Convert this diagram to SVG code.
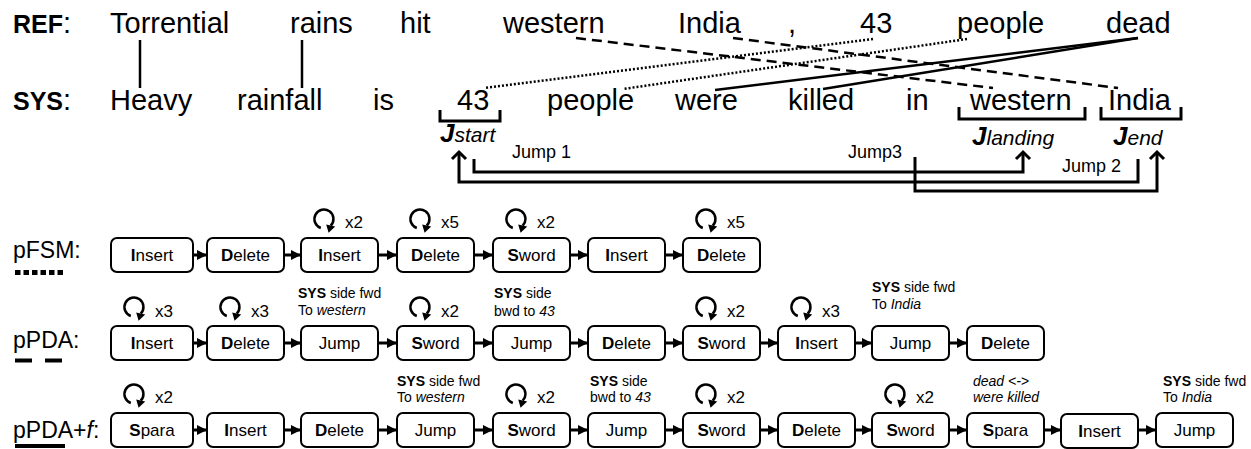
<svg xmlns="http://www.w3.org/2000/svg" xmlns:xlink="http://www.w3.org/1999/xlink" width="1251" height="449" viewBox="0 0 1251 449">
<style>
text{font-family:"Liberation Sans",Arial,sans-serif;fill:#000}
.w{font-size:29px}
.lbl{font-size:25px;font-weight:bold}
.row{font-size:23px}
.box{fill:#fff;stroke:#000;stroke-width:2}
.bt{font-size:17px;text-anchor:middle}
.b{font-weight:bold}
.i{font-style:italic}
.ann{font-size:14px}
.cnt{font-size:17px}
.jl{font-size:18px}
.lk{stroke:#000;stroke-width:2.5;fill:none}
.jp{stroke:#000;stroke-width:3;fill:none;stroke-linejoin:miter}
.ba{stroke:#000;stroke-width:3;fill:none}
</style>
<defs>
<marker id="ah" viewBox="0 0 10 10" refX="9" refY="5" markerWidth="10" markerHeight="11" markerUnits="userSpaceOnUse" orient="auto"><path d="M0,0 L10,5 L0,10 z" fill="#000"/></marker>
<g id="loop"><path d="M-3.2,9 A9.5,9.5 0 1 1 6.7,6.7" fill="none" stroke="#000" stroke-width="2.5"/><path d="M2.2,5.6 L11.2,7.6 L4.6,13.8 z" fill="#000"/></g>
</defs>

<g id="sentences">
<text class="w" x="13" y="33"><tspan class="lbl">REF</tspan>:</text>
<text class="w" x="110" y="33">Torrential</text>
<text class="w" x="290" y="33">rains</text>
<text class="w" x="400" y="33">hit</text>
<text class="w" x="503" y="33">western</text>
<text class="w" x="678" y="33">India</text>
<text class="w" x="788" y="33">,</text>
<text class="w" x="860" y="33">43</text>
<text class="w" x="957" y="33">people</text>
<text class="w" x="1106" y="33">dead</text>
<text class="w" x="13" y="110"><tspan class="lbl">SYS</tspan>:</text>
<text class="w" x="110" y="110">Heavy</text>
<text class="w" x="237" y="110">rainfall</text>
<text class="w" x="373" y="110">is</text>
<text class="w" x="457" y="110">43</text>
<text class="w" x="547" y="110">people</text>
<text class="w" x="675" y="110">were</text>
<text class="w" x="788" y="110">killed</text>
<text class="w" x="906" y="110">in</text>
<text class="w" x="970" y="110">western</text>
<text class="w" x="1108" y="110">India</text>
</g>

<g id="alignments">
<line class="lk" x1="140" y1="40" x2="140" y2="88"/>
<line class="lk" x1="302" y1="40" x2="302" y2="88"/>
<line class="lk" x1="576" y1="38" x2="993" y2="88" stroke-dasharray="10 6"/>
<line class="lk" x1="733" y1="38" x2="1118" y2="88" stroke-dasharray="10 6"/>
<line class="lk" x1="873" y1="39" x2="485" y2="88" stroke-dasharray="2 2"/>
<line class="lk" x1="967" y1="39" x2="623" y2="89" stroke-dasharray="2 2"/>
<line class="lk" x1="1138" y1="38" x2="715" y2="90"/>
<line class="lk" x1="1138" y1="38" x2="823" y2="89"/>
</g>

<g id="brackets">
<path class="jp" d="M440,110 V121 H500 V110"/>
<path class="jp" d="M959,107 V119 H1085 V107"/>
<path class="jp" d="M1101,107 V119 H1181 V107"/>
<text x="440" y="142" class="i"><tspan class="b" font-size="26">J</tspan><tspan font-size="21">start</tspan></text>
<text x="972" y="145" class="i"><tspan class="b" font-size="26">J</tspan><tspan font-size="21">landing</tspan></text>
<text x="1113" y="145" class="i"><tspan class="b" font-size="26">J</tspan><tspan font-size="21">end</tspan></text>
</g>

<g id="jumps">
<path class="jp" d="M474,159 V172 H1023 V153"/>
<path class="jp" d="M1016,159 L1023,152 L1030,159"/>
<path class="jp" d="M1138,159 V182 H459 V153"/>
<path class="jp" d="M452,159 L459,152 L466,159"/>
<path class="jp" d="M915,157 V191 H1157 V153"/>
<path class="jp" d="M1150,159 L1157,152 L1164,159"/>
<text class="jl" x="512" y="158">Jump 1</text>
<text class="jl" x="848" y="158">Jump3</text>
<text class="jl" x="1062" y="172">Jump 2</text>
</g>

<g id="legend">
<text class="row" x="13" y="258">pFSM:</text>
<line x1="15" y1="272.5" x2="63" y2="272.5" stroke="#000" stroke-width="5" stroke-dasharray="5.5 3"/>
<text class="row" x="13" y="348">pPDA:</text>
<line x1="15" y1="360.5" x2="62" y2="360.5" stroke="#000" stroke-width="4" stroke-dasharray="17 13"/>
<text class="row" x="13" y="438">pPDA+<tspan class="i">f</tspan>:</text>
<line x1="15" y1="446" x2="65" y2="446" stroke="#000" stroke-width="4"/>
</g>

<!-- pFSM row -->
<g id="pfsm-0"><rect class="box" x="111" y="238" width="82" height="34" rx="6"/><text class="bt" x="152" y="261"><tspan class="b">I</tspan>nsert</text></g>
<g id="pfsm-1"><rect class="box" x="207" y="238" width="77" height="34" rx="6"/><text class="bt" x="245.5" y="261"><tspan class="b">D</tspan>elete</text></g>
<g id="pfsm-2"><rect class="box" x="301" y="238" width="77" height="34" rx="6"/><text class="bt" x="339.5" y="261"><tspan class="b">I</tspan>nsert</text><use href="#loop" x="324" y="219"/><text class="cnt" x="345" y="228">x2</text></g>
<g id="pfsm-3"><rect class="box" x="397" y="238" width="77" height="34" rx="6"/><text class="bt" x="435.5" y="261"><tspan class="b">D</tspan>elete</text><use href="#loop" x="420" y="219"/><text class="cnt" x="441" y="228">x5</text></g>
<g id="pfsm-4"><rect class="box" x="493" y="238" width="77" height="34" rx="6"/><text class="bt" x="531.5" y="261"><tspan class="b">S</tspan>word</text><use href="#loop" x="516" y="219"/><text class="cnt" x="537" y="228">x2</text></g>
<g id="pfsm-5"><rect class="box" x="588" y="238" width="77" height="34" rx="6"/><text class="bt" x="626.5" y="261"><tspan class="b">I</tspan>nsert</text></g>
<g id="pfsm-6"><rect class="box" x="683" y="238" width="77" height="34" rx="6"/><text class="bt" x="721.5" y="261"><tspan class="b">D</tspan>elete</text><use href="#loop" x="706" y="219"/><text class="cnt" x="727" y="228">x5</text></g>

<!-- pPDA row -->
<g id="ppda-0"><rect class="box" x="111" y="326" width="82" height="34" rx="6"/><text class="bt" x="152" y="349"><tspan class="b">I</tspan>nsert</text><use href="#loop" x="134" y="307"/><text class="cnt" x="155" y="317">x3</text></g>
<g id="ppda-1"><rect class="box" x="207" y="326" width="77" height="34" rx="6"/><text class="bt" x="245.5" y="349"><tspan class="b">D</tspan>elete</text><use href="#loop" x="230" y="307"/><text class="cnt" x="251" y="317">x3</text></g>
<g id="ppda-2"><rect class="box" x="301" y="326" width="77" height="34" rx="6"/><text class="bt" x="339.5" y="349">Jump</text><text class="ann" x="298" y="298"><tspan class="b">SYS</tspan> side fwd</text><text class="ann" x="298" y="315">To <tspan class="i">western</tspan></text></g>
<g id="ppda-3"><rect class="box" x="397" y="326" width="77" height="34" rx="6"/><text class="bt" x="435.5" y="349"><tspan class="b">S</tspan>word</text><use href="#loop" x="420" y="307"/><text class="cnt" x="441" y="317">x2</text></g>
<g id="ppda-4"><rect class="box" x="493" y="326" width="77" height="34" rx="6"/><text class="bt" x="531.5" y="349">Jump</text><text class="ann" x="494" y="298"><tspan class="b">SYS</tspan> side</text><text class="ann" x="494" y="316">bwd to <tspan class="i">43</tspan></text></g>
<g id="ppda-5"><rect class="box" x="588" y="326" width="77" height="34" rx="6"/><text class="bt" x="626.5" y="349"><tspan class="b">D</tspan>elete</text></g>
<g id="ppda-6"><rect class="box" x="683" y="326" width="77" height="34" rx="6"/><text class="bt" x="721.5" y="349"><tspan class="b">S</tspan>word</text><use href="#loop" x="706" y="307"/><text class="cnt" x="727" y="317">x2</text></g>
<g id="ppda-7"><rect class="box" x="778" y="326" width="77" height="34" rx="6"/><text class="bt" x="816.5" y="349"><tspan class="b">I</tspan>nsert</text><use href="#loop" x="801" y="307"/><text class="cnt" x="822" y="317">x3</text></g>
<g id="ppda-8"><rect class="box" x="872" y="326" width="77" height="34" rx="6"/><text class="bt" x="910.5" y="349">Jump</text><text class="ann" x="872" y="292"><tspan class="b">SYS</tspan> side fwd</text><text class="ann" x="872" y="309">To <tspan class="i">India</tspan></text></g>
<g id="ppda-9"><rect class="box" x="967" y="326" width="77" height="34" rx="6"/><text class="bt" x="1005.5" y="349"><tspan class="b">D</tspan>elete</text></g>

<!-- pPDA+f row -->
<g id="ppdaf-0"><rect class="box" x="111" y="413" width="82" height="34" rx="6"/><text class="bt" x="152" y="436"><tspan class="b">S</tspan>para</text><use href="#loop" x="134" y="394"/><text class="cnt" x="155" y="403">x2</text></g>
<g id="ppdaf-1"><rect class="box" x="207" y="413" width="77" height="34" rx="6"/><text class="bt" x="245.5" y="436"><tspan class="b">I</tspan>nsert</text></g>
<g id="ppdaf-2"><rect class="box" x="301" y="413" width="77" height="34" rx="6"/><text class="bt" x="339.5" y="436"><tspan class="b">D</tspan>elete</text></g>
<g id="ppdaf-3"><rect class="box" x="397" y="413" width="77" height="34" rx="6"/><text class="bt" x="435.5" y="436">Jump</text><text class="ann" x="397" y="386"><tspan class="b">SYS</tspan> side fwd</text><text class="ann" x="397" y="402">To <tspan class="i">western</tspan></text></g>
<g id="ppdaf-4"><rect class="box" x="493" y="413" width="77" height="34" rx="6"/><text class="bt" x="531.5" y="436"><tspan class="b">S</tspan>word</text><use href="#loop" x="516" y="394"/><text class="cnt" x="537" y="403">x2</text></g>
<g id="ppdaf-5"><rect class="box" x="588" y="413" width="77" height="34" rx="6"/><text class="bt" x="626.5" y="436">Jump</text><text class="ann" x="590" y="386"><tspan class="b">SYS</tspan> side</text><text class="ann" x="590" y="402">bwd to <tspan class="i">43</tspan></text></g>
<g id="ppdaf-6"><rect class="box" x="683" y="413" width="77" height="34" rx="6"/><text class="bt" x="721.5" y="436"><tspan class="b">S</tspan>word</text><use href="#loop" x="706" y="394"/><text class="cnt" x="727" y="403">x2</text></g>
<g id="ppdaf-7"><rect class="box" x="778" y="413" width="77" height="34" rx="6"/><text class="bt" x="816.5" y="436"><tspan class="b">D</tspan>elete</text></g>
<g id="ppdaf-8"><rect class="box" x="872" y="413" width="77" height="34" rx="6"/><text class="bt" x="910.5" y="436"><tspan class="b">S</tspan>word</text><use href="#loop" x="895" y="394"/><text class="cnt" x="916" y="403">x2</text></g>
<g id="ppdaf-9"><rect class="box" x="967" y="413" width="77" height="34" rx="6"/><text class="bt" x="1005.5" y="436"><tspan class="b">S</tspan>para</text><text class="ann i" x="973" y="386">dead &lt;-&gt;</text><text class="ann i" x="973" y="402">were killed</text></g>
<g id="ppdaf-10"><rect class="box" x="1061" y="414" width="77" height="34" rx="6"/><text class="bt" x="1099.5" y="437"><tspan class="b">I</tspan>nsert</text></g>
<g id="ppdaf-11"><rect class="box" x="1156" y="413" width="77" height="34" rx="6"/><text class="bt" x="1194.5" y="436">Jump</text><text class="ann" x="1163" y="386"><tspan class="b">SYS</tspan> side fwd</text><text class="ann" x="1163" y="402">To <tspan class="i">India</tspan></text></g>

<g id="connectors" stroke="#000" stroke-width="3" marker-end="url(#ah)">
<line x1="193" y1="255" x2="206" y2="255"/>
<line x1="284" y1="255" x2="300" y2="255"/>
<line x1="378" y1="255" x2="396" y2="255"/>
<line x1="474" y1="255" x2="492" y2="255"/>
<line x1="570" y1="255" x2="587" y2="255"/>
<line x1="665" y1="255" x2="682" y2="255"/>
<line x1="193" y1="343" x2="206" y2="343"/>
<line x1="284" y1="343" x2="300" y2="343"/>
<line x1="378" y1="343" x2="396" y2="343"/>
<line x1="474" y1="343" x2="492" y2="343"/>
<line x1="570" y1="343" x2="587" y2="343"/>
<line x1="665" y1="343" x2="682" y2="343"/>
<line x1="760" y1="343" x2="777" y2="343"/>
<line x1="855" y1="343" x2="871" y2="343"/>
<line x1="949" y1="343" x2="966" y2="343"/>
<line x1="193" y1="430" x2="206" y2="430"/>
<line x1="284" y1="430" x2="300" y2="430"/>
<line x1="378" y1="430" x2="396" y2="430"/>
<line x1="474" y1="430" x2="492" y2="430"/>
<line x1="570" y1="430" x2="587" y2="430"/>
<line x1="665" y1="430" x2="682" y2="430"/>
<line x1="760" y1="430" x2="777" y2="430"/>
<line x1="855" y1="430" x2="871" y2="430"/>
<line x1="949" y1="430" x2="966" y2="430"/>
<line x1="1044" y1="430" x2="1060" y2="430"/>
<line x1="1138" y1="430" x2="1155" y2="430"/>
</g>
</svg>
